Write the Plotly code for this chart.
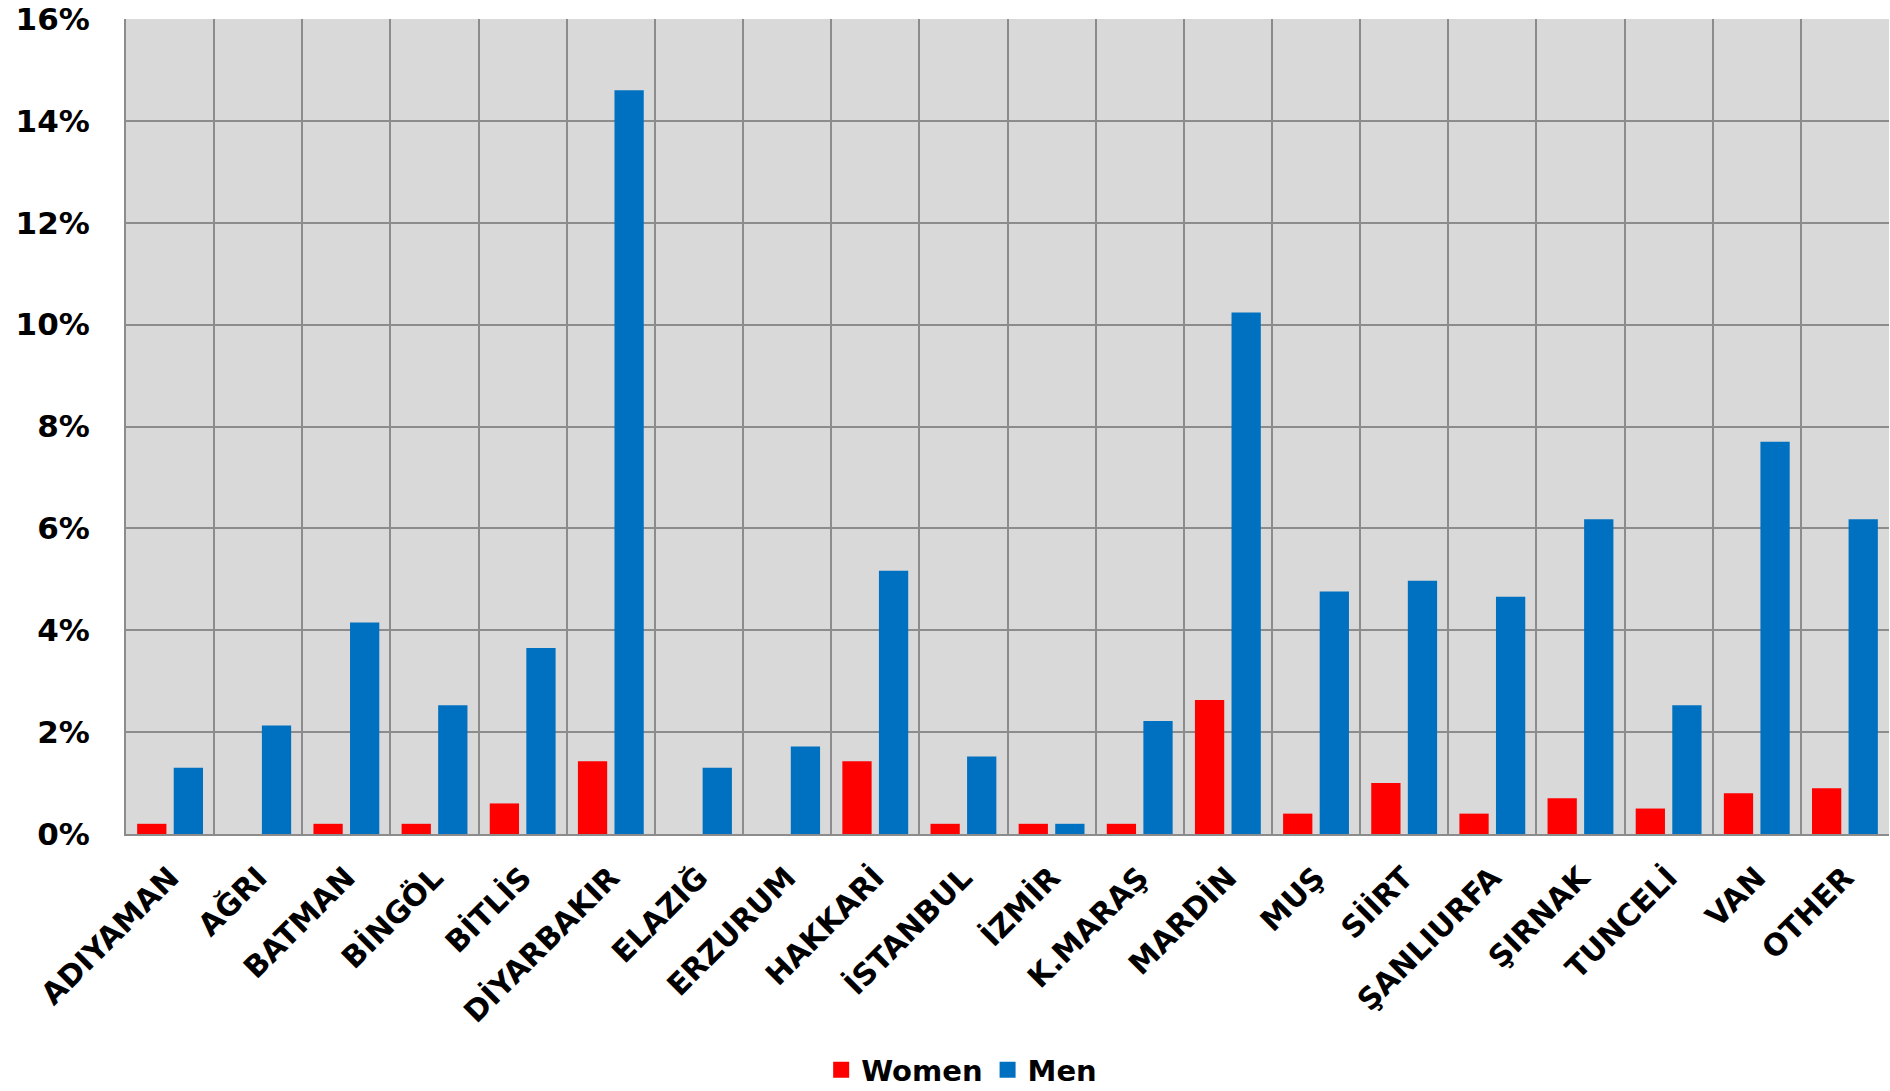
import plotly.graph_objects as go

categories = ["ADIYAMAN", "AĞRI", "BATMAN", "BİNGÖL", "BİTLİS", "DİYARBAKIR", "ELAZIĞ",
              "ERZURUM", "HAKKARİ", "İSTANBUL", "İZMİR", "K.MARAŞ", "MARDİN", "MUŞ",
              "SİİRT", "ŞANLIURFA", "ŞIRNAK", "TUNCELİ", "VAN", "OTHER"]
women = [0.2, 0.0, 0.2, 0.2, 0.6, 1.43, 0.0, 0.0, 1.43, 0.2, 0.2, 0.2, 2.63, 0.4,
         1.0, 0.4, 0.7, 0.5, 0.8, 0.9]
men = [1.3, 2.13, 4.15, 2.53, 3.65, 14.6, 1.3, 1.72, 5.17, 1.52, 0.2, 2.22, 10.24, 4.76,
       4.97, 4.66, 6.18, 2.53, 7.7, 6.18]
y_ticks = [0, 2, 4, 6, 8, 10, 12, 14, 16]
y_tick_text = [f"{v}%" for v in y_ticks]

RED = "#FF0000"
BLUE = "#0070C0"
FONT = "DejaVu Sans"

fig = go.Figure()
fig.add_trace(go.Bar(x=categories, y=women, name="Women", marker=dict(color=RED, line=dict(width=0)),
                     showlegend=False))
fig.add_trace(go.Bar(x=categories, y=men, name="Men", marker=dict(color=BLUE, line=dict(width=0)),
                     showlegend=False))
# legend entries
fig.add_trace(go.Scatter(x=[None], y=[None], mode="markers", name="Women",
                         marker=dict(symbol="square", size=18, color=RED)))
fig.add_trace(go.Scatter(x=[None], y=[None], mode="markers", name="Men",
                         marker=dict(symbol="square", size=18, color=BLUE)))

fig.update_layout(
    width=1890, height=1091,
    margin=dict(l=126, r=1, t=19, b=257, autoexpand=False),
    paper_bgcolor="white",
    plot_bgcolor="#D9D9D9",
    barmode="group",
    bargap=0.17,
    bargroupgap=0.2,
    font=dict(family=FONT, size=31, color="black", weight="bold"),
    legend=dict(orientation="h", x=0.474, xanchor="center", y=-0.2896, yanchor="middle",
                font=dict(family=FONT, size=29, color="black", weight="bold"),
                bgcolor="rgba(0,0,0,0)", itemsizing="trace"),
)
fig.update_xaxes(
    type="category", categoryorder="array", categoryarray=categories,
    tickson="boundaries", showgrid=True, gridcolor="#8C8C8C", gridwidth=2,
    showline=True, linecolor="#8C8C8C", linewidth=2,
    ticks="", tickangle=-45, ticklabelstandoff=12, automargin=False,
    tickfont=dict(family=FONT, size=30, color="black", weight="bold"),
)
fig.update_yaxes(
    range=[0, 16], tickmode="array", tickvals=y_ticks, ticktext=y_tick_text,
    showgrid=True, gridcolor="#8C8C8C", gridwidth=2,
    showline=True, linecolor="#8C8C8C", linewidth=2,
    ticks="", ticklabelstandoff=28, zeroline=False, automargin=False,
    tickfont=dict(family=FONT, size=31, color="black", weight="bold"),
)

fig.write_html(
    "out.html",
    config={"displayModeBar": False},
    post_script=("document.body.style.margin='0';"
                 "document.body.style.overflow='hidden';"
                 "document.documentElement.style.overflow='hidden';"
                 "document.body.style.height='1091px';"),
)
